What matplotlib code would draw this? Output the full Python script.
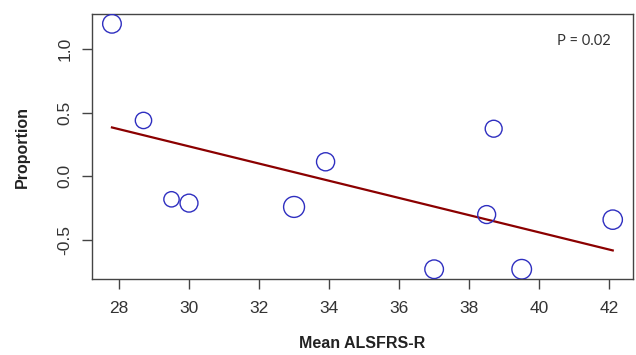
import matplotlib
matplotlib.use("Agg")
import matplotlib.pyplot as plt
import numpy as np

plt.rcParams['font.family'] = ['Liberation Sans', 'DejaVu Sans']

# values
alsfrs = [27.8, 28.7, 29.5, 30.0, 33.0, 33.9, 37.0, 38.5, 38.7, 39.5, 42.1]
proportion = [1.2, 0.44, -0.18, -0.21, -0.24, 0.115, -0.73, -0.30, 0.375, -0.73, -0.34]
# circle diameters (px) as drawn
diam = [20, 17.7, 16.7, 19.3, 22.3, 19.5, 20, 19.3, 18.3, 21, 20.7]
fit_x = [27.8, 42.1]
fit_y = [0.385, -0.582]
xticks = [28, 30, 32, 34, 36, 38, 40, 42]
yticks = [-0.5, 0.0, 0.5, 1.0]

fig = plt.figure(figsize=(6.36, 3.55), dpi=100)
ax = fig.add_axes([92/636, 1 - 279.3/355, 540.7/636, 265.3/355])

sizes = (np.array(diam) * 0.72 - 1) ** 2
ax.scatter(alsfrs, proportion, s=sizes, facecolors='none', edgecolors='#2f2fc0',
           linewidths=1.0, zorder=3)
ax.plot(fit_x, fit_y, color='#8b0000', lw=1.6, zorder=2)

ax.set_xlim(27.23, 42.67)
ax.set_ylim(-0.809, 1.277)
ax.set_xticks(xticks)
ax.set_yticks(yticks)
ax.set_xticklabels([str(t) for t in xticks])
ax.set_yticklabels(['%.1f' % t for t in yticks], rotation=90, va='center')

for s in ax.spines.values():
    s.set_color('#444444')
    s.set_linewidth(1.0)
ax.tick_params(axis='both', length=7, width=1.0, color='#444444',
               labelcolor='#333333', labelsize=12.5)
ax.tick_params(axis='x', pad=8.5)
ax.tick_params(axis='y', pad=7)

ax.set_xlabel('Mean ALSFRS-R', fontsize=11.5, fontweight='bold', color='#222222',
              va='center')
ax.set_ylabel('Proportion', fontsize=11.5, fontweight='bold', color='#222222',
              va='center')
ax.xaxis.set_label_coords(0.5, (279.3 - 344) / 265.3)
ax.yaxis.set_label_coords((22 - 92) / 540.7, 0.5)

ax.text(0.86, 0.9, 'P = 0.02', transform=ax.transAxes, fontsize=10.5,
        family=['Lato', 'DejaVu Sans'], color='#333333', ha='left', va='center')

fig.savefig('out.png', dpi=100)
